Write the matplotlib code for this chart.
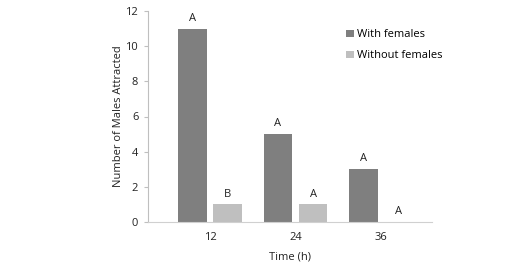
import matplotlib
matplotlib.use("Agg")
import matplotlib.pyplot as plt
import numpy as np

categories = ["12", "24", "36"]
with_females = [11, 5, 3]
without_females = [1, 1, 0]
letters_with = ["A", "A", "A"]
letters_without = ["B", "A", "A"]

plt.rcParams['font.family'] = ['Open Sans', 'DejaVu Sans']

fig = plt.figure(figsize=(5.28, 2.65), dpi=100)
W, H = 528, 265
ax = fig.add_axes([148 / W, 1 - 222 / H, (432 - 148) / W, (222 - 11) / H])

x = np.arange(len(categories))
off = 0.205
w = 0.335
dark = "#7f7f7f"
light = "#bfbfbf"
ax.bar(x - off, with_females, w, color=dark, label="With females")
ax.bar(x + off, without_females, w, color=light, label="Without females")

fs = 8
for xi, v, t in zip(x, with_females, letters_with):
    ax.annotate(t, (xi - off, v), xytext=(0, 3.5), textcoords="offset points",
                ha="center", va="bottom", fontsize=fs, color="#222222")
for xi, v, t in zip(x, without_females, letters_without):
    ax.annotate(t, (xi + off, v), xytext=(0, 3.5), textcoords="offset points",
                ha="center", va="bottom", fontsize=fs, color="#222222")

ax.set_xlim(-0.725, 2.596)
ax.set_ylim(0, 12)
ax.set_yticks([0, 2, 4, 6, 8, 10, 12])
ax.set_xticks(x)
ax.set_xticklabels(categories)
ax.tick_params(axis="x", length=0, pad=7, labelsize=fs, colors="#222222")
ax.tick_params(axis="y", length=3, width=0.8, color="#bfbfbf", labelsize=fs,
               labelcolor="#222222", pad=4)
for s in ["top", "right"]:
    ax.spines[s].set_visible(False)
ax.spines["left"].set_color("#bfbfbf")
ax.spines["bottom"].set_color("#d0d0d0")
ax.spines["left"].set_linewidth(0.8)
ax.spines["bottom"].set_linewidth(0.8)

ax.set_ylabel("Number of Males Attracted", fontsize=fs, color="#222222", labelpad=1)
ax.set_xlabel("Time (h)", fontsize=fs, color="#222222", labelpad=6)

ax.legend(loc="upper left", bbox_to_anchor=((338 - 148) / (432 - 148), 0.95),
          frameon=False, fontsize=fs, handlelength=0.7, handleheight=0.7,
          handletextpad=0.3, labelspacing=0.9, borderaxespad=0.3)

fig.savefig("out.png", dpi=100)
